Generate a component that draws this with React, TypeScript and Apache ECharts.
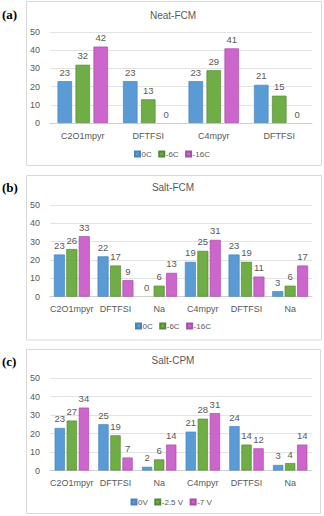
import React, { useEffect, useRef } from "react";
import * as echarts from "echarts";

// ---- data ----
const catsA = ["C2O1mpyr", "DFTFSI", "C4mpyr", "DFTFSI"];
const catsB = ["C2O1mpyr", "DFTFSI", "Na", "C4mpyr", "DFTFSI", "Na"];
const catsC = ["C2O1mpyr", "DFTFSI", "Na", "C4mpyr", "DFTFSI", "Na"];

const namesTemp = ["0C", "-6C", "-16C"];
const namesVolt = ["0V", "-2.5 V", "-7 V"];

const neat0C = [23, 23, 23, 21];
const neatM6C = [32, 13, 29, 15];
const neatM16C = [42, 0, 41, 0];

const saltFcm0C = [23, 22, 0, 19, 23, 3];
const saltFcmM6C = [26, 17, 6, 25, 19, 6];
const saltFcmM16C = [33, 9, 13, 31, 11, 17];

const saltCpm0V = [23, 25, 2, 21, 24, 3];
const saltCpmM25V = [27, 19, 6, 28, 14, 4];
const saltCpmM7V = [34, 7, 14, 31, 12, 14];

const yMin = 0;
const yMax = 50;
const yStep = 10;

const titles = ["Neat-FCM", "Salt-FCM", "Salt-CPM"];
const panelTags = ["(a)", "(b)", "(c)"];

// ---- styles ----
const fills = ["#5b9bd5", "#70ad47", "#cc66cc"];
const borders = ["#4a84bb", "#548a36", "#a84fa8"];
const textColor = "#595959";
const sans = "'Liberation Sans', Arial, sans-serif";

const panels = [
  {
    cats: catsA,
    names: namesTemp,
    values: [neat0C, neatM6C, neatM16C],
    box: { x: 26.5, y: 1.5, w: 295, h: 164 },
    gridTop: 32,
    gridH: 91,
    titleY: 15,
    tagY: 14.5,
    legendTop: 150,
    legendLeft: 134,
    barWidth: 14.5,
    barGap: "24%",
  },
  {
    cats: catsB,
    names: namesTemp,
    values: [saltFcm0C, saltFcmM6C, saltFcmM16C],
    box: { x: 26.5, y: 175.5, w: 295, h: 164.5 },
    gridTop: 205,
    gridH: 91.7,
    titleY: 187,
    tagY: 187,
    legendTop: 322,
    legendLeft: 135,
    barWidth: 11,
    barGap: "13%",
  },
  {
    cats: catsC,
    names: namesVolt,
    values: [saltCpm0V, saltCpmM25V, saltCpmM7V],
    box: { x: 26.5, y: 349.5, w: 294, h: 164 },
    gridTop: 378,
    gridH: 92.5,
    titleY: 360.5,
    tagY: 361,
    legendTop: 498,
    legendLeft: 130.5,
    barWidth: 10.3,
    barGap: "17%",
  },
];

export default function App() {
  const ref = useRef<HTMLDivElement>(null);

  useEffect(() => {
    document.body.style.margin = "0";
    if (!ref.current) return;
    const chart = echarts.init(ref.current, undefined, { renderer: "svg" });

    const grids: any[] = [];
    const xAxes: any[] = [];
    const yAxes: any[] = [];
    const series: any[] = [];
    const legends: any[] = [];
    const graphics: any[] = [];

    panels.forEach((p, pi) => {
      grids.push({ left: 50, right: 12, top: p.gridTop, height: p.gridH, containLabel: false });
      xAxes.push({
        type: "category",
        gridIndex: pi,
        data: p.cats,
        axisTick: { show: false },
        axisLine: { show: true, lineStyle: { color: "#d0d0d0", width: 1 } },
        axisLabel: { interval: 0, fontSize: 9, color: textColor, fontFamily: sans, margin: 8 },
      });
      yAxes.push({
        type: "value",
        gridIndex: pi,
        min: yMin,
        max: yMax,
        interval: yStep,
        axisLine: { show: false },
        axisTick: { show: false },
        axisLabel: { fontSize: 9, color: textColor, fontFamily: sans, margin: 10 },
        splitLine: { lineStyle: { color: "#e3e3e3", width: 1 } },
      });
      p.names.forEach((n, si) => {
        series.push({
          type: "bar",
          name: n,
          xAxisIndex: pi,
          yAxisIndex: pi,
          data: p.values[si].map((v) =>
            v === 0 ? { value: v, itemStyle: { borderWidth: 0 } } : v
          ),
          barWidth: p.barWidth,
          barGap: p.barGap,
          itemStyle: { color: fills[si], borderColor: borders[si], borderWidth: 0.7 },
          label: {
            show: true,
            position: "top",
            distance: 4,
            fontSize: 9.5,
            color: textColor,
            fontFamily: sans,
          },
        });
      });
      legends.push({
        data: p.names,
        left: p.legendLeft,
        top: p.legendTop,
        padding: 0,
        icon: "rect",
        itemWidth: 5,
        itemHeight: 5,
        itemGap: 6.5,
        textStyle: {
          fontSize: 8,
          color: textColor,
          fontFamily: sans,
          padding: [0, 0, 0, -3.5],
        },
        selectedMode: false,
      });
      graphics.push({
        type: "rect",
        shape: { x: p.box.x, y: p.box.y, width: p.box.w, height: p.box.h },
        style: { fill: "none", stroke: "#d9d9d9", lineWidth: 1 },
        silent: true,
      });
      graphics.push({
        type: "text",
        x: 173,
        y: p.titleY,
        style: {
          text: titles[pi],
          fontSize: 10,
          fontWeight: "normal",
          fontFamily: sans,
          fill: textColor,
          align: "center",
          verticalAlign: "middle",
          textAlign: "center",
          textVerticalAlign: "middle",
        },
        silent: true,
      });
      graphics.push({
        type: "text",
        x: 2,
        y: p.tagY,
        style: {
          text: panelTags[pi],
          fontSize: 13,
          fontWeight: "bold",
          fontFamily: "'Liberation Serif', 'Times New Roman', serif",
          fill: "#000",
          align: "left",
          verticalAlign: "middle",
          textAlign: "left",
          textVerticalAlign: "middle",
        },
        silent: true,
      });
    });

    chart.setOption({
      animation: false,
      backgroundColor: "#ffffff",
      grid: grids,
      xAxis: xAxes,
      yAxis: yAxes,
      legend: legends,
      series,
      graphic: graphics,
    });

    return () => chart.dispose();
  }, []);

  return <div ref={ref} style={{ width: 324, height: 516 }} />;
}
